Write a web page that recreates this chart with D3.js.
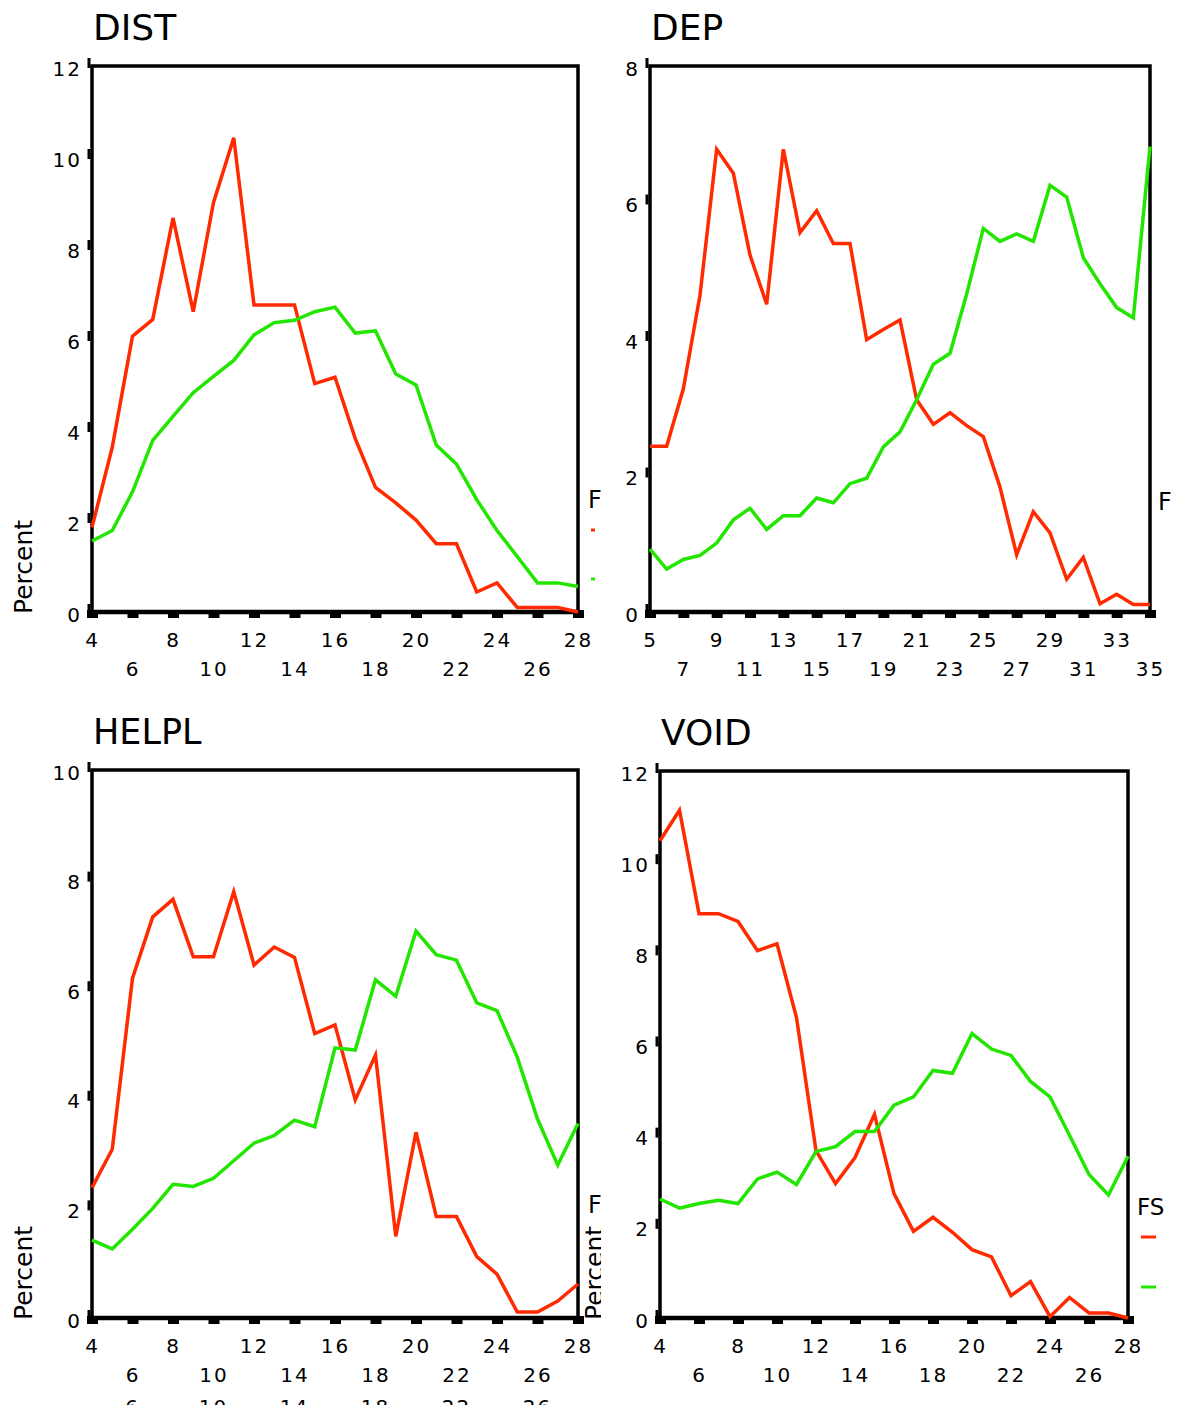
<!DOCTYPE html>
<html><head><meta charset="utf-8">
<script src="https://cdn.jsdelivr.net/npm/d3@7"></script>
<style>body{margin:0;background:#fff} text{font-family:"DejaVu Sans",sans-serif;fill:#000}</style>
</head><body><svg id="c" width="1186" height="1405"></svg>
<script>
// ---------- data ----------
const distX = [4,5,6,7,8,9,10,11,12,13,14,15,16,17,18,19,20,21,22,23,24,25,26,27,28];
const distRed = [1.86,3.62,6.06,6.43,8.66,6.6,9.0,10.42,6.75,6.75,6.75,5.02,5.16,3.81,2.74,2.4,2.02,1.5,1.5,0.44,0.64,0.1,0.1,0.1,0.0];
const distGreen = [1.56,1.79,2.64,3.77,4.3,4.82,5.18,5.53,6.09,6.36,6.41,6.6,6.7,6.13,6.18,5.23,4.99,3.67,3.25,2.47,1.79,1.22,0.64,0.64,0.56];
const distXTicks = [4,6,8,10,12,14,16,18,20,22,24,26,28];
const distYTicks = [0,2,4,6,8,10,12];

const depX = [5,6,7,8,9,10,11,12,13,14,15,16,17,18,19,20,21,22,23,24,25,26,27,28,29,30,31,32,33,34,35];
const depRed = [2.43,2.43,3.27,4.64,6.78,6.43,5.23,4.51,6.78,5.56,5.88,5.4,5.4,3.99,4.14,4.28,3.11,2.75,2.92,2.73,2.57,1.83,0.84,1.47,1.16,0.48,0.8,0.12,0.26,0.11,0.11];
const depGreen = [0.92,0.63,0.77,0.83,1.01,1.35,1.52,1.21,1.41,1.41,1.67,1.6,1.88,1.96,2.42,2.64,3.11,3.63,3.79,4.66,5.62,5.43,5.54,5.43,6.25,6.08,5.19,4.81,4.46,4.31,6.82];
const depXTicks = [5,7,9,11,13,15,17,19,21,23,25,27,29,31,33,35];
const depYTicks = [0,2,4,6,8];

const helplX = [4,5,6,7,8,9,10,11,12,13,14,15,16,17,18,19,20,21,22,23,24,25,26,27,28];
const helplRed = [2.38,3.08,6.2,7.32,7.64,6.59,6.59,7.78,6.44,6.77,6.58,5.19,5.35,3.98,4.8,1.49,3.39,1.85,1.85,1.12,0.8,0.11,0.11,0.31,0.62];
const helplGreen = [1.42,1.26,1.62,2.0,2.44,2.4,2.55,2.87,3.19,3.33,3.61,3.49,4.93,4.89,6.17,5.87,7.06,6.63,6.53,5.75,5.61,4.76,3.63,2.79,3.55];
const helplXTicks = [4,6,8,10,12,14,16,18,20,22,24,26,28];
const helplYTicks = [0,2,4,6,8,10];

const voidX = [4,5,6,7,8,9,10,11,12,13,14,15,16,17,18,19,20,21,22,23,24,25,26,27,28];
const voidRed = [10.47,11.14,8.87,8.87,8.7,8.06,8.21,6.59,3.67,2.95,3.52,4.47,2.73,1.9,2.21,1.88,1.5,1.34,0.49,0.8,0.03,0.45,0.11,0.11,0.0];
const voidGreen = [2.61,2.41,2.51,2.58,2.51,3.05,3.2,2.93,3.65,3.76,4.09,4.09,4.67,4.85,5.43,5.37,6.24,5.9,5.76,5.19,4.85,4.01,3.15,2.7,3.55];
const voidXTicks = [4,6,8,10,12,14,16,18,20,22,24,26,28];
const voidYTicks = [0,2,4,6,8,10,12];

const legendTitle = "FS";
const yLabel = "Percent";
const RED = "#ff2a00", GREEN = "#22e600";

// ---------- drawing ----------
const svg = d3.select("#c");
const defs = svg.append("defs");
defs.append("clipPath").attr("id","clipMid").append("rect").attr("x",0).attr("y",0).attr("width",601).attr("height",1405);

function panel(p){
  const g = svg.append("g");
  const x = d3.scaleLinear().domain([p.xs[0], p.xs[p.xs.length-1]]).range([p.left,p.right]);
  const y = d3.scaleLinear().domain([0,p.yMax]).range([p.bottom,p.top]);

  g.append("text").attr("x",p.left+1).attr("y",p.top-26).attr("font-size",p.titleSize||36).text(p.title);

  // left axis labels
  const ya = g.append("g").attr("transform",`translate(${p.left-10},0)`)
    .call(d3.axisLeft(y).tickValues(p.yTicks).tickSize(0).tickPadding(0));
  ya.select(".domain").remove();
  ya.attr("font-family",null).attr("font-size",null);
  ya.selectAll("text").attr("font-size",20).attr("letter-spacing",2).attr("dy","0.45em");
  // small tick marks
  g.selectAll(".ym").data(p.yTicks).join("line")
    .attr("x1",p.left-3).attr("x2",p.left-3)
    .attr("y1",d=>y(d)-8).attr("y2",d=>y(d)+2)
    .attr("stroke","#000").attr("stroke-width",3);

  // bottom axis
  const xa = g.append("g").attr("transform",`translate(0,${p.bottom-2})`)
    .call(d3.axisBottom(x).tickValues(p.xTicks).tickSize(8).tickPadding(0));
  xa.select(".domain").remove();
  xa.attr("font-family",null).attr("font-size",null);
  xa.selectAll(".tick line").attr("stroke","#000").attr("stroke-width",11);
  xa.selectAll("text").attr("font-size",20).attr("letter-spacing",2).attr("dy",null)
    .attr("y",(d,i)=> i%2 ? 66 : 37);
  if (p.extraRow){
    p.xTicks.forEach((d,i)=>{ if(i%2) g.append("text").attr("x",x(d)).attr("y",p.bottom+96)
      .attr("text-anchor","middle").attr("font-size",20).attr("letter-spacing",2).text(d); });
  }

  // frame
  g.append("rect").attr("x",p.left).attr("y",p.top).attr("width",p.right-p.left).attr("height",p.bottom-p.top)
    .attr("fill","none").attr("stroke","#000").attr("stroke-width",3.5);
  g.append("line").attr("x1",p.left).attr("x2",p.right).attr("y1",p.bottom).attr("y2",p.bottom)
    .attr("stroke","#000").attr("stroke-width",4.5);

  // lines
  const line = d3.line().x((d,i)=>x(p.xs[i])).y(d=>y(d));
  [[p.red,RED],[p.green,GREEN]].forEach(([vals,col])=>{
    g.append("path").datum(vals).attr("d",line).attr("fill","none")
      .attr("stroke",col).attr("stroke-width",3.5).attr("stroke-linejoin","miter");
  });

  if (p.yLab){
    g.append("text").attr("transform",`translate(32,${p.bottom+2}) rotate(-90)`)
      .attr("font-size",25).text(yLabel);
  }
  return {x,y};
}

panel({title:"DIST", xs:distX, red:distRed, green:distGreen, xTicks:distXTicks, yTicks:distYTicks,
  yMax:12, left:92, right:578, top:66, bottom:612, yLab:true});
panel({title:"DEP", xs:depX, red:depRed, green:depGreen, xTicks:depXTicks, yTicks:depYTicks,
  yMax:8, left:650, right:1150, top:66, bottom:612});
panel({title:"HELPL", xs:helplX, red:helplRed, green:helplGreen, xTicks:helplXTicks, yTicks:helplYTicks,
  yMax:10, left:92, right:578, top:770, bottom:1318, yLab:true, extraRow:true, titleSize:35});
panel({title:"VOID", xs:voidX, red:voidRed, green:voidGreen, xTicks:voidXTicks, yTicks:voidYTicks,
  yMax:12, left:660, right:1128, top:771, bottom:1318});

// clipped legend fragments between panels
const mid = svg.append("g").attr("clip-path","url(#clipMid)");
mid.append("text").attr("x",588).attr("y",508).attr("font-size",24).text(legendTitle);
mid.append("line").attr("x1",591).attr("x2",595).attr("y1",530).attr("y2",530).attr("stroke",RED).attr("stroke-width",3);
mid.append("line").attr("x1",591).attr("x2",595).attr("y1",579).attr("y2",579).attr("stroke",GREEN).attr("stroke-width",3);
mid.append("text").attr("x",588).attr("y",1213).attr("font-size",24).text(legendTitle);
mid.append("text").attr("transform","translate(603,1320) rotate(-90)").attr("font-size",25).text(yLabel);

// DEP legend fragment on the right edge (only its first letter is visible)
svg.append("defs").append("clipPath").attr("id","clipRight").append("rect")
  .attr("x",1150).attr("y",0).attr("width",22).attr("height",700);
svg.append("text").attr("clip-path","url(#clipRight)").attr("x",1158).attr("y",510).attr("font-size",24).text(legendTitle);

// VOID legend
svg.append("text").attr("x",1137).attr("y",1215).attr("font-size",23).text(legendTitle);
svg.append("line").attr("x1",1141).attr("x2",1156).attr("y1",1237).attr("y2",1237).attr("stroke",RED).attr("stroke-width",3);
svg.append("line").attr("x1",1141).attr("x2",1156).attr("y1",1287).attr("y2",1287).attr("stroke",GREEN).attr("stroke-width",3);
</script></body></html>
